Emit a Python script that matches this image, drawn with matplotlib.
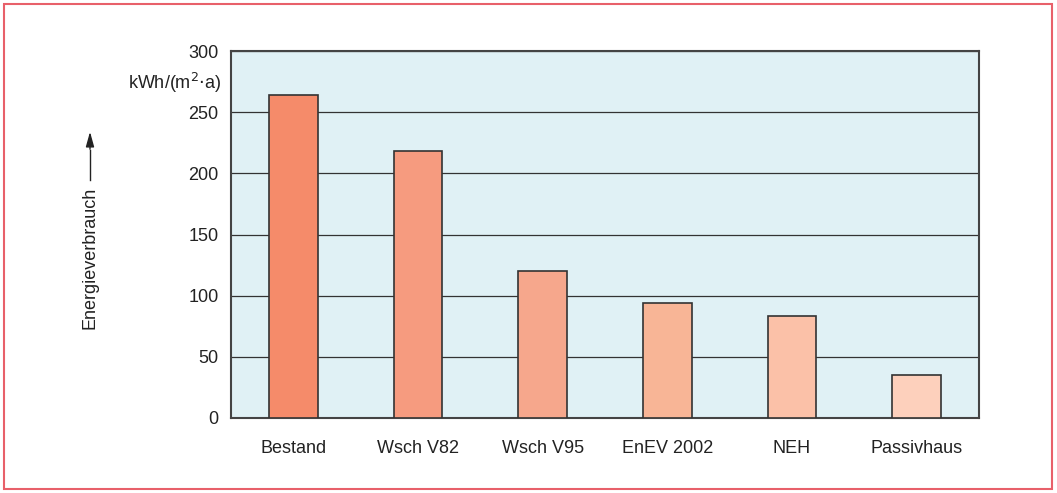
import matplotlib.pyplot as plt
from matplotlib.patches import Rectangle

categories = ["Bestand", "Wsch V82", "Wsch V95", "EnEV 2002", "NEH", "Passivhaus"]
values = [264, 218, 120, 94, 83, 35]
colors = ["#F58B6A", "#F69B7F", "#F6A78C", "#F8B596", "#FBC1A8", "#FDD0BC"]
yticks = [0, 50, 100, 150, 200, 250, 300]

plt.rcParams["font.family"] = ["Liberation Sans", "DejaVu Sans"]
FS = 13

fig = plt.figure(figsize=(10.57, 4.93), dpi=100)
ax = fig.add_axes([231 / 1057, 1 - 418 / 493, 748 / 1057, 367 / 493])
ax.set_facecolor("#E0F1F5")

x = range(len(categories))
ax.bar(x, values, width=0.39, color=colors, edgecolor="#333333", linewidth=1.2, zorder=3)

ax.set_xlim(-0.5, len(categories) - 0.5)
ax.set_ylim(0, 300)
ax.set_yticks(yticks)
ax.set_xticks(list(x))
ax.set_xticklabels(categories)
ax.tick_params(axis="both", length=0, labelsize=FS, colors="#222222")
ax.tick_params(axis="x", pad=16)
ax.tick_params(axis="y", pad=9)
ax.grid(axis="y", color="#333333", linewidth=0.9, zorder=1)

for s in ax.spines.values():
    s.set_color("#444444")
    s.set_linewidth(1.5)

# unit label
fig.text(221 / 1057, 1 - 83 / 493, "kWh/(m$^2$$\\cdot$a)", ha="right", va="center",
         fontsize=FS, color="#222222")

# y axis label with arrow
fig.text(90 / 1057, 1 - 258 / 493, "Energieverbrauch", rotation=90, ha="center", va="center",
         fontsize=FS, color="#222222")
fig.add_artist(plt.Line2D([90 / 1057, 90 / 1057], [1 - 180 / 493, 1 - 150 / 493],
                          color="#222222", linewidth=1.0))
ax.annotate("", xy=(90 / 1057, 1 - 129 / 493), xytext=(90 / 1057, 1 - 152 / 493),
            xycoords="figure fraction",
            arrowprops=dict(arrowstyle="-|>,head_length=0.9,head_width=0.25",
                            color="#222222", lw=1.0))

# red frame
fig.add_artist(Rectangle((4 / 1057, 4 / 493), 1048 / 1057, 485 / 493, transform=fig.transFigure,
                         fill=False, edgecolor="#E8606A", linewidth=1.5))

fig.savefig("out.png", dpi=100)
